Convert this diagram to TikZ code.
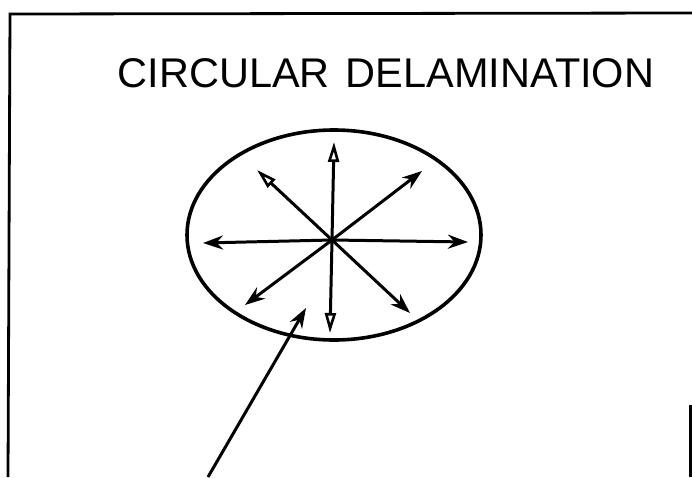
\documentclass[tikz,border=0pt]{standalone}
\usepackage{fontspec}
\setmainfont{Liberation Sans}
\usetikzlibrary{arrows.meta,shapes.geometric}
\tikzset{
  frame/.style={line width=2.8pt, black},
  outline/.style={line width=3.6pt, black},
  ray/.style={line width=3pt, black, -{Stealth[length=20pt,width=14pt]}},
  rayopen/.style={line width=3pt, black, -{Triangle[open,length=20pt,width=11pt,line width=2.6pt]}},
  title/.style={font=\fontsize{41.5}{42}\selectfont, inner sep=0pt}
}
\begin{document}
\begin{tikzpicture}[x=1pt,y=-1pt]
\useasboundingbox (0,0) rectangle (692,477);
% frame
\coordinate (tl) at (10,14);
\coordinate (tr) at (692,13);
\coordinate (bl) at (8,477);
\coordinate (rt) at (690.5,405);
\coordinate (rb) at (690.5,477);
\draw[frame] (tr) -- (tl) -- (bl);
\draw[frame] (rt) -- (rb);
% title
\node[title] (t) at (386,73) {CIRCULAR\hspace{16pt}DELAMINATION};
% ellipse
\node[draw, outline, ellipse, minimum width=294pt, minimum height=210pt, inner sep=0pt] (e) at (334,235) {};
% rays
\coordinate (c) at (332,240);
\coordinate (n) at (334,142);
\coordinate (nw) at (257,170);
\coordinate (ne) at (422,171);
\coordinate (w) at (203,243);
\coordinate (east) at (468,242);
\coordinate (sw) at (245,305);
\coordinate (s) at (330,333);
\coordinate (se) at (410,313);
\draw[rayopen] (c) -- (n);
\draw[rayopen] (c) -- (nw);
\draw[ray] (c) -- (ne);
\draw[ray] (c) -- (w);
\draw[ray] (c) -- (east);
\draw[ray] (c) -- (sw);
\draw[rayopen] (c) -- (s);
\draw[ray] (c) -- (se);
% pointer
\coordinate (p0) at (208,477);
\coordinate (p1) at (306,308);
\draw[ray] (p0) -- (p1);
\end{tikzpicture}
\end{document}
